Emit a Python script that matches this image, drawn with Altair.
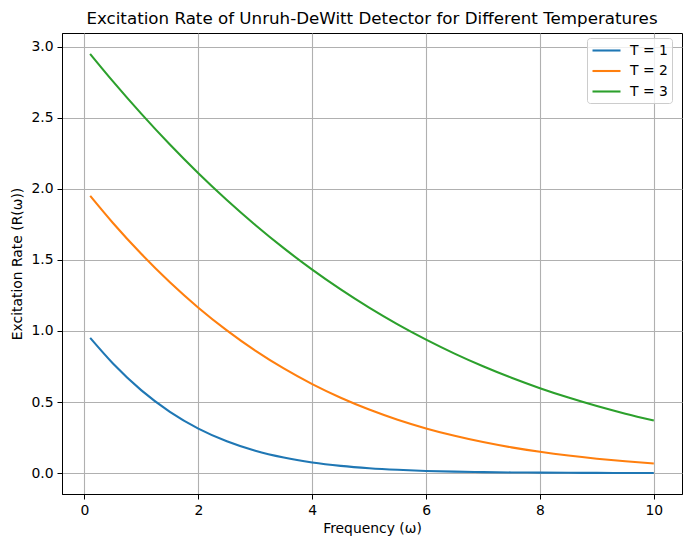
import altair as alt
import pandas as pd

omega = [0.1, 0.5, 1.0, 1.5, 2.0, 2.5, 3.0, 3.5, 4.0, 4.5, 5.0, 5.5, 6.0, 6.5, 7.0, 7.5, 8.0, 8.5, 9.0, 9.5, 10.0]
rate_t1 = [0.951, 0.771, 0.582, 0.431, 0.313, 0.2236, 0.157, 0.109, 0.0746, 0.0506, 0.0339, 0.0226, 0.0149, 0.0098, 0.0064, 0.0042, 0.0027, 0.0017, 0.0011, 0.0007, 0.0005]
rate_t2 = [1.951, 1.760, 1.5415, 1.343, 1.164, 1.004, 0.8616, 0.7361, 0.626, 0.5302, 0.4471, 0.3756, 0.3144, 0.2622, 0.218, 0.1806, 0.1493, 0.123, 0.1011, 0.0829, 0.0678]
rate_t3 = [2.950, 2.757, 2.528, 2.312, 2.110, 1.9216, 1.746, 1.5828, 1.4318, 1.2925, 1.1643, 1.0467, 0.9391, 0.8409, 0.7517, 0.6707, 0.5974, 0.5312, 0.4716, 0.418, 0.370]
series_names = ["T = 1", "T = 2", "T = 3"]
series_colors = ["#1f77b4", "#ff7f0e", "#2ca02c"]
x_ticks = [0, 2, 4, 6, 8, 10]
y_ticks = [0.0, 0.5, 1.0, 1.5, 2.0, 2.5, 3.0]

rows = []
for name, vals in zip(series_names, [rate_t1, rate_t2, rate_t3]):
    for w, r in zip(omega, vals):
        rows.append({"omega": w, "rate": r, "series": name})
df = pd.DataFrame(rows)

font = "DejaVu Sans"

chart = alt.Chart(df).mark_line(strokeWidth=2.08, interpolate="monotone").encode(
    x=alt.X("omega:Q",
            scale=alt.Scale(domain=[-0.395, 10.495], nice=False, zero=False),
            axis=alt.Axis(values=x_ticks, format="d", title="Frequency (ω)")),
    y=alt.Y("rate:Q",
            scale=alt.Scale(domain=[-0.1475, 3.0975], nice=False, zero=False),
            axis=alt.Axis(values=y_ticks, format=".1f", title="Excitation Rate (R(ω))", titlePadding=6)),
    color=alt.Color("series:N",
                    scale=alt.Scale(domain=series_names, range=series_colors),
                    legend=alt.Legend(orient="none", legendX=525, legendY=5, title=None,
                                      symbolType="M-1,0H3", symbolSize=196, symbolStrokeWidth=2.08,
                                      labelFontSize=13.9, labelFont=font, labelColor="black",
                                      fillColor="rgba(255,255,255,0.8)", strokeColor="#cccccc",
                                      cornerRadius=3, padding=4, rowPadding=4.5, labelOffset=22)),
    detail="series:N",
).properties(
    width=620, height=461,
    title=alt.TitleParams("Excitation Rate of Unruh-DeWitt Detector for Different Temperatures",
                          font=font, fontSize=16.7, fontWeight="normal", color="black",
                          anchor="middle", offset=5),
    autosize=alt.AutoSizeParams(type="none"),
    padding={"left": 54, "top": 25, "right": 1, "bottom": 45},
).configure_view(
    stroke="black", strokeWidth=1
).configure_axis(
    grid=True, gridColor="#b0b0b0", gridWidth=1.1,
    domainColor="black", domainWidth=1,
    tickColor="black", tickSize=5, tickWidth=1,
    labelFont=font, labelFontSize=13.9, labelColor="black", labelPadding=4,
    titleFont=font, titleFontSize=13.9, titleColor="black", titleFontWeight="normal",
).configure_axisX(titlePadding=5)

chart.save("out.html", embed_options={"renderer": "svg", "actions": False})
